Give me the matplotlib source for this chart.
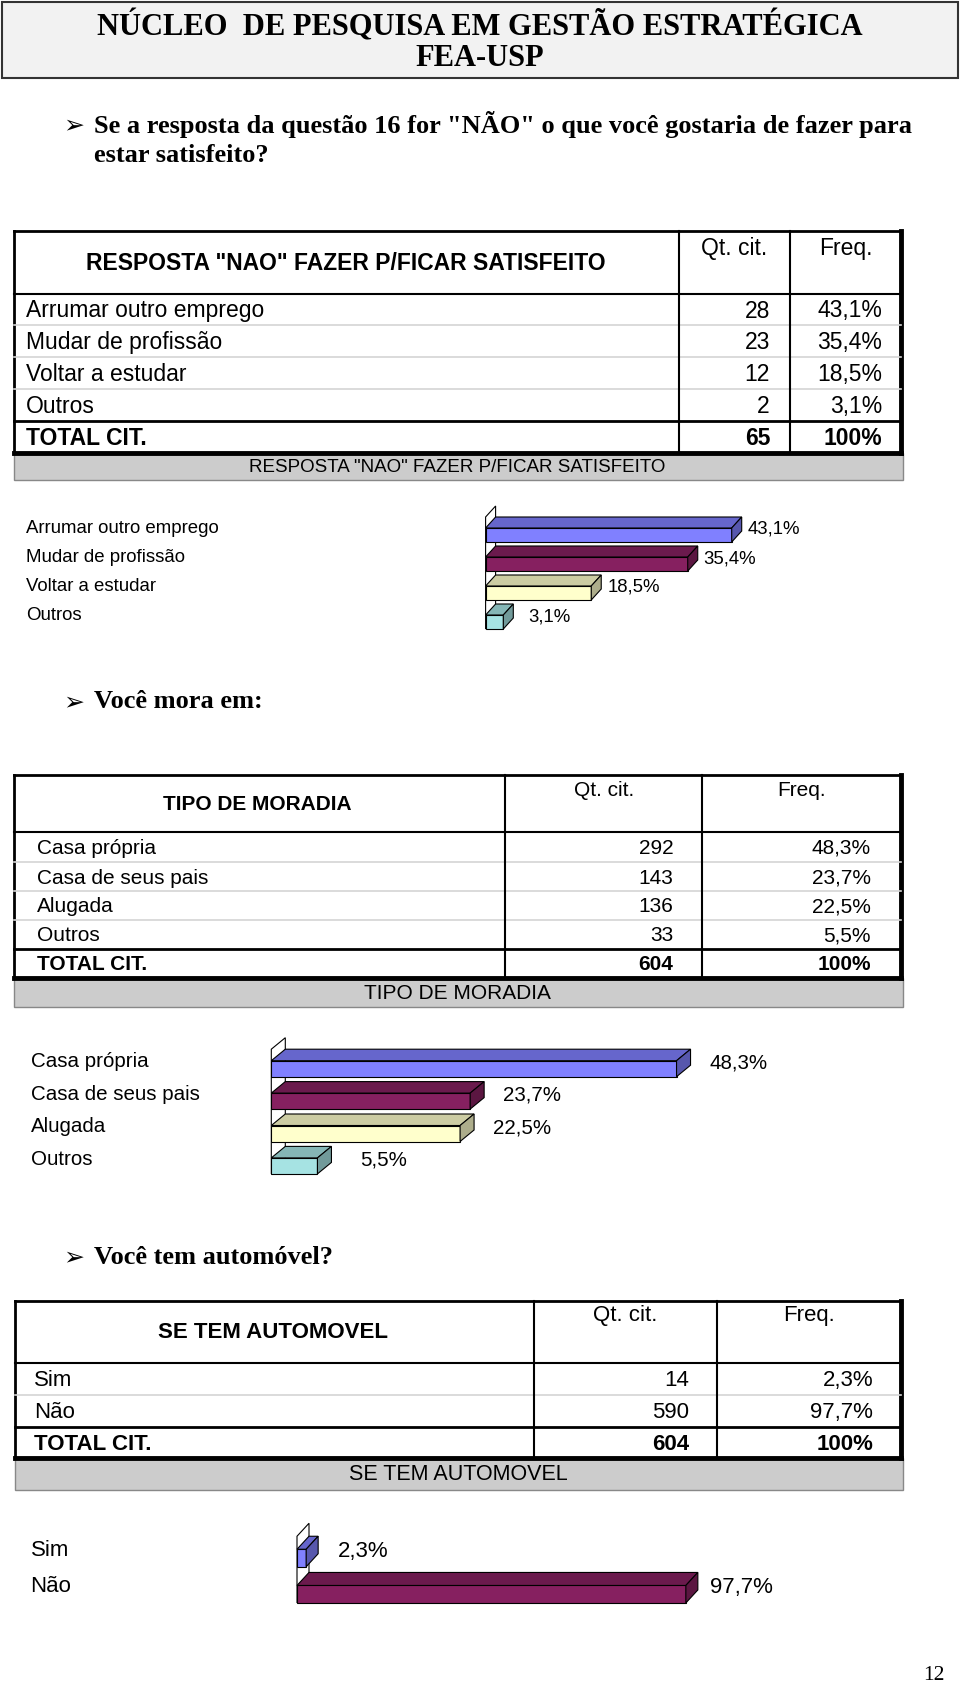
import matplotlib
matplotlib.use("Agg")
import matplotlib.pyplot as plt
from matplotlib.patches import Rectangle, Polygon
from matplotlib.colors import to_rgb
import numpy as np

# ---- data ----
q1_title = 'RESPOSTA "NAO" FAZER P/FICAR SATISFEITO'
q1_labels = ['Arrumar outro emprego', 'Mudar de profissão', 'Voltar a estudar', 'Outros']
q1_counts = [28, 23, 12, 2]
q1_freq = [43.1, 35.4, 18.5, 3.1]
q1_total = 65

q2_title = 'TIPO DE MORADIA'
q2_labels = ['Casa própria', 'Casa de seus pais', 'Alugada', 'Outros']
q2_counts = [292, 143, 136, 33]
q2_freq = [48.3, 23.7, 22.5, 5.5]
q2_total = 604

q3_title = 'SE TEM AUTOMOVEL'
q3_labels = ['Sim', 'Não']
q3_counts = [14, 590]
q3_freq = [2.3, 97.7]
q3_total = 604

bar_colors = ['#8080FF', '#862060', '#FFFFCC', '#A6E3E3']

W, H = 960, 1688
SANS = 'Liberation Sans'
SERIF = 'Liberation Serif'

fig = plt.figure(figsize=(W / 100, H / 100), dpi=100)
page = fig.add_axes([0, 0, 1, 1])
page.set_xlim(0, W)
page.set_ylim(H, 0)
page.axis('off')


def pct(v):
    return f'{v:.1f}'.replace('.', ',') + '%'


def shade(c, f):
    r, g, b = to_rgb(c)
    return (r * f, g * f, b * f)


# ---- page header ----
page.add_patch(Rectangle((2, 2), 956, 76, fc='#F2F2F2', ec='#333333', lw=1.5))
page.text(480, 26, 'NÚCLEO  DE PESQUISA EM GESTÃO ESTRATÉGICA', ha='center', va='center',
          family=SERIF, weight='bold', fontsize=22)
page.text(480, 59, 'FEA-USP', ha='center', va='center', family=SERIF, weight='bold', fontsize=22)


def bullet(y, text):
    page.text(63, y, '➢', ha='left', va='center', family='DejaVu Sans', fontsize=18)
    page.text(94, y, text, ha='left', va='center', family=SERIF, weight='bold', fontsize=19)


bullet(125, 'Se a resposta da questão 16 for "NÃO" o que você gostaria de fazer para')
page.text(94, 155, 'estar satisfeito?', ha='left', va='center', family=SERIF, weight='bold', fontsize=19)
bullet(702, 'Você mora em:')
bullet(1257, 'Você tem automóvel?')
page.text(945, 1676, '12', ha='right', va='center', family=SERIF, fontsize=15.5)


# ---- tables ----
def draw_table(title, labels, counts, freqs, total, L, fs, cap_fs):
    left, right, top = L['left'], L['right'], L['top']
    rows = L['rows']  # row boundaries: header bottom ... bottom of total row
    c1, c2 = L['cols']
    cap_bot = L['cap_bottom']
    bottom = rows[-1]
    # caption strip
    page.add_patch(Rectangle((left, bottom), right - left + 2, cap_bot - bottom,
                             fc='#CCCCCC', ec='#888888', lw=1.0))
    page.text((left + right) / 2, (bottom + cap_bot) / 2 + 1, title, ha='center', va='center',
              family=SANS, fontsize=cap_fs)
    # frame
    page.plot([left, right], [top, top], color='black', lw=2)
    page.plot([left, left], [top, bottom], color='black', lw=2)
    page.plot([right, right], [top, bottom], color='black', lw=3.5)
    page.plot([left, right], [rows[0], rows[0]], color='black', lw=1.5)
    for r in rows[1:-2]:
        page.plot([left, right], [r, r], color='#D4D4D4', lw=1.2)
    page.plot([left, right], [rows[-2], rows[-2]], color='black', lw=2)
    page.plot([left, right], [bottom, bottom], color='black', lw=3.5)
    for c in (c1, c2):
        page.plot([c, c], [top, bottom], color='black', lw=1.5)
    # header
    page.text(L['title_x'], (top + rows[0]) / 2 + 1, title, ha='center', va='center',
              family=SANS, weight='bold', fontsize=fs)
    hy = L['hdr_y']
    page.text((c1 + c2) / 2, hy, 'Qt. cit.', ha='center', va='center', family=SANS, fontsize=fs)
    page.text((c2 + right) / 2, hy, 'Freq.', ha='center', va='center', family=SANS, fontsize=fs)
    # body
    for i, lab in enumerate(labels + ['TOTAL CIT.']):
        yc = (rows[i] + rows[i + 1]) / 2 + 1.5
        is_total = i == len(labels)
        wt = 'bold' if is_total else 'normal'
        cnt = total if is_total else counts[i]
        frq = '100%' if is_total else pct(freqs[i])
        page.text(L['lab_x'], yc, lab, ha='left', va='center', family=SANS, weight=wt, fontsize=fs)
        page.text(L['cnt_x'], yc, str(cnt), ha='right', va='center', family=SANS, weight=wt, fontsize=fs)
        page.text(L['frq_x'], yc, frq, ha='right', va='center', family=SANS, weight=wt, fontsize=fs)


t1 = dict(left=14, right=901, top=231, rows=[294, 325, 357, 389, 421, 453], cols=(678.5, 790),
          cap_bottom=480, title_x=346, hdr_y=248, lab_x=26, cnt_x=770, frq_x=882)
t2 = dict(left=14, right=901, top=775, rows=[832, 862, 891, 919.5, 948.5, 977.5], cols=(505, 702.4),
          cap_bottom=1007, title_x=257, hdr_y=790, lab_x=37, cnt_x=673.6, frq_x=871)
t3 = dict(left=15, right=901, top=1301, rows=[1363, 1395, 1427, 1458], cols=(534, 716.5),
          cap_bottom=1490, title_x=272.5, hdr_y=1316, lab_x=34, cnt_x=689, frq_x=873)

draw_table(q1_title, q1_labels, q1_counts, q1_freq, q1_total, t1, 16.5, 13.5)
draw_table(q2_title, q2_labels, q2_counts, q2_freq, q2_total, t2, 15, 15)
draw_table(q3_title, q3_labels, q3_counts, q3_freq, q3_total, t3, 16, 15.5)


# ---- 3D-look horizontal bar charts ----
def draw_chart(labels, values, C):
    n = len(values)
    x0, ppu, c0, sp = C['x0'], C['ppu'], C['c0'], C['spacing']
    xmax = (945 - x0) / ppu
    top = c0 - 1.5 * sp
    bot = c0 + (n - 1 + 1.5) * sp
    ax = fig.add_axes([x0 / W, 1 - bot / H, (945 - x0) / W, (bot - top) / H])
    ax.set_xlim(0, xmax)
    ax.set_ylim(n - 1 + 1.5, -1.5)
    ax.axis('off')
    ddx = C['dx'] / ppu
    ddy = C['dy'] / sp
    bh = C['bar_h'] / sp
    y = np.arange(n)
    # left wall
    wt = -bh / 2 - ddy
    wb = n - 1 + bh / 2
    ax.add_patch(Polygon([(0, wb), (0, wt), (ddx, wt - ddy), (ddx, wb - ddy)], closed=True,
                         fc='white', ec='black', lw=0.8, clip_on=False, zorder=1))
    cols = bar_colors[:n]
    ax.barh(y, values, height=bh, color=cols, edgecolor='black', lw=0.8, zorder=3)
    for yi, v, c in zip(y, values, cols):
        yt, yb = yi - bh / 2, yi + bh / 2
        ax.add_patch(Polygon([(0, yt), (v, yt), (v + ddx, yt - ddy), (ddx, yt - ddy)], closed=True,
                             fc=shade(c, 0.8), ec='black', lw=0.8, clip_on=False, zorder=3))
        ax.add_patch(Polygon([(v, yt), (v, yb), (v + ddx, yb - ddy), (v + ddx, yt - ddy)], closed=True,
                             fc=shade(c, 0.68), ec='black', lw=0.8, clip_on=False, zorder=3))
        pad = C['pad'] + (C['small_pad'] if v < 10 else 0)
        ax.text(v + ddx + pad / ppu, yi - ddy / 2, pct(v), ha='left', va='center',
                family=SANS, fontsize=C['fs'])
        page.text(C['lab_x'], c0 + sp * yi - C['dy'] / 2 - 1, labels[yi], ha='left', va='center',
                  family=SANS, fontsize=C['fs'])


ch1 = dict(x0=485.6, ppu=5.71, c0=535, spacing=29, bar_h=14, dx=10, dy=11, pad=6, small_pad=9,
           lab_x=26, fs=13.4)
ch2 = dict(x0=271.3, ppu=8.39, c0=1068.7, spacing=32.4, bar_h=16, dx=14, dy=11.5, pad=19, small_pad=10,
           lab_x=30.6, fs=14.8)
ch3 = dict(x0=297, ppu=3.98, c0=1558, spacing=36.2, bar_h=17.5, dx=12, dy=13, pad=12, small_pad=8,
           lab_x=30.6, fs=16)

draw_chart(q1_labels, q1_freq, ch1)
draw_chart(q2_labels, q2_freq, ch2)
draw_chart(q3_labels, q3_freq, ch3)

fig.savefig('out.png', dpi=100)
